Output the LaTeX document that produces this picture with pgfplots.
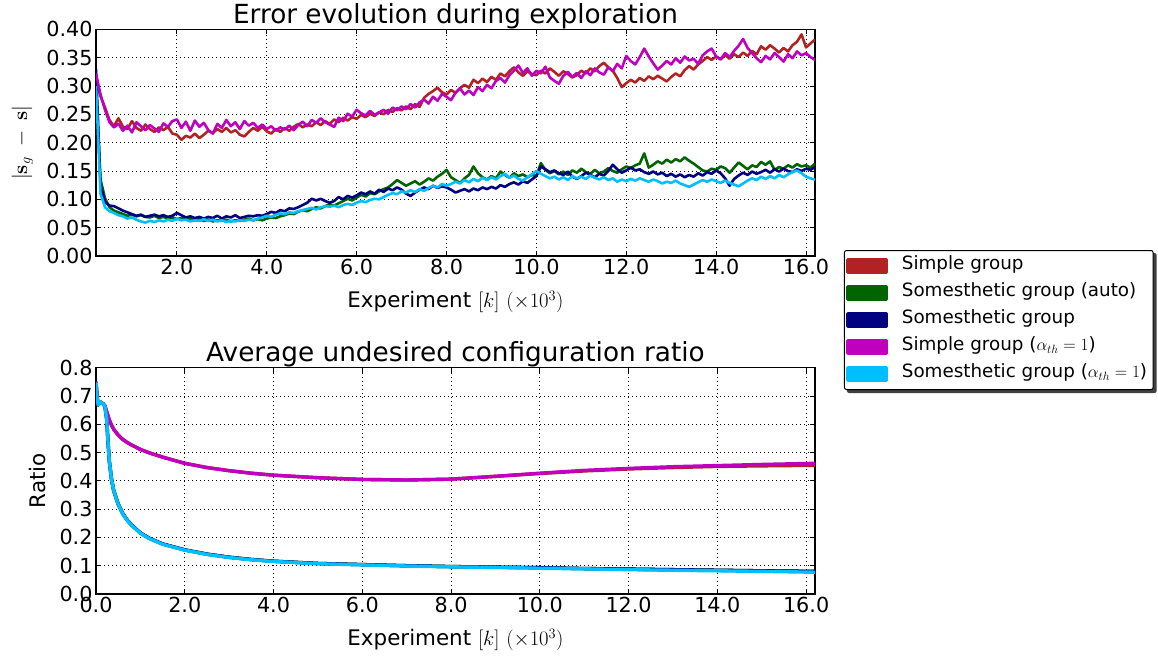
\documentclass[border=0pt]{standalone}
\usepackage{pgfplots}
\pgfplotsset{compat=1.18}
\usepackage{pgfplotstable}
\usepackage[no-math]{fontspec}
\setmainfont{DejaVu Sans}
\usetikzlibrary{backgrounds}
\definecolor{cRed}{RGB}{178,34,34}
\definecolor{cGreen}{RGB}{0,100,0}
\definecolor{cNavy}{RGB}{0,0,128}
\definecolor{cMag}{RGB}{191,0,191}
\definecolor{cCyan}{RGB}{0,191,255}

\pgfplotstableread{
x r g b m c
0.2 0.312 0.300 0.330 0.322 0.300
0.3 0.282 0.135 0.125 0.285 0.110
0.4 0.262 0.102 0.095 0.258 0.086
0.5 0.240 0.086 0.089 0.236 0.079
0.6 0.229 0.080 0.088 0.227 0.076
0.7 0.243 0.077 0.084 0.233 0.072
0.8 0.228 0.074 0.080 0.221 0.070
0.9 0.224 0.071 0.077 0.230 0.066
1.0 0.238 0.073 0.074 0.218 0.068
1.1 0.226 0.070 0.071 0.236 0.064
1.2 0.221 0.072 0.073 0.229 0.061
1.3 0.232 0.069 0.069 0.222 0.059
1.4 0.224 0.068 0.071 0.231 0.062
1.5 0.219 0.071 0.073 0.225 0.060
1.6 0.227 0.067 0.070 0.219 0.063
1.7 0.222 0.069 0.072 0.234 0.061
1.8 0.228 0.066 0.069 0.228 0.064
1.9 0.216 0.068 0.071 0.238 0.062
2.0 0.214 0.065 0.076 0.241 0.066
2.1 0.205 0.067 0.072 0.226 0.063
2.2 0.212 0.064 0.068 0.237 0.064
2.3 0.209 0.066 0.070 0.221 0.061
2.4 0.216 0.063 0.067 0.239 0.063
2.5 0.208 0.065 0.069 0.228 0.062
2.6 0.214 0.062 0.066 0.235 0.065
2.7 0.221 0.064 0.069 0.222 0.062
2.8 0.217 0.061 0.067 0.216 0.064
2.9 0.224 0.063 0.071 0.233 0.061
3.0 0.219 0.062 0.066 0.226 0.063
3.1 0.226 0.064 0.070 0.240 0.060
3.2 0.218 0.061 0.068 0.229 0.062
3.3 0.222 0.063 0.072 0.236 0.061
3.4 0.214 0.062 0.067 0.224 0.063
3.5 0.211 0.064 0.069 0.238 0.062
3.6 0.219 0.066 0.071 0.230 0.064
3.7 0.226 0.063 0.070 0.235 0.063
3.8 0.221 0.065 0.072 0.226 0.066
3.9 0.228 0.063 0.071 0.232 0.068
4.0 0.220 0.066 0.074 0.224 0.071
4.1 0.216 0.068 0.078 0.229 0.069
4.2 0.224 0.067 0.076 0.221 0.073
4.3 0.219 0.070 0.081 0.227 0.075
4.4 0.226 0.072 0.079 0.223 0.074
4.5 0.221 0.075 0.084 0.230 0.077
4.6 0.228 0.074 0.083 0.222 0.076
4.7 0.233 0.078 0.086 0.231 0.079
4.8 0.227 0.081 0.090 0.237 0.081
4.9 0.232 0.079 0.094 0.229 0.083
5.0 0.229 0.083 0.101 0.240 0.085
5.1 0.236 0.086 0.098 0.235 0.082
5.2 0.231 0.084 0.101 0.243 0.086
5.3 0.238 0.088 0.097 0.236 0.088
5.4 0.233 0.091 0.094 0.232 0.087
5.5 0.241 0.089 0.097 0.228 0.089
5.6 0.236 0.093 0.104 0.244 0.086
5.7 0.244 0.097 0.100 0.238 0.090
5.8 0.239 0.101 0.106 0.251 0.092
5.9 0.245 0.098 0.103 0.246 0.090
6.0 0.242 0.103 0.107 0.258 0.094
6.1 0.249 0.108 0.112 0.252 0.097
6.2 0.245 0.105 0.109 0.248 0.095
6.3 0.251 0.111 0.114 0.256 0.099
6.4 0.247 0.109 0.110 0.249 0.101
6.5 0.254 0.114 0.117 0.253 0.100
6.6 0.250 0.118 0.113 0.258 0.104
6.7 0.258 0.121 0.119 0.251 0.108
6.8 0.254 0.127 0.116 0.262 0.111
6.9 0.261 0.134 0.121 0.257 0.109
7.0 0.257 0.129 0.117 0.264 0.114
7.1 0.264 0.124 0.110 0.259 0.112
7.2 0.259 0.128 0.106 0.268 0.116
7.3 0.268 0.132 0.112 0.262 0.113
7.4 0.263 0.126 0.117 0.271 0.118
7.5 0.279 0.131 0.121 0.276 0.115
7.6 0.286 0.137 0.118 0.269 0.120
7.7 0.291 0.133 0.124 0.281 0.124
7.8 0.297 0.140 0.120 0.274 0.121
7.9 0.289 0.145 0.123 0.286 0.127
8.0 0.285 0.152 0.121 0.281 0.124
8.1 0.293 0.139 0.117 0.275 0.127
8.2 0.288 0.134 0.112 0.288 0.131
8.3 0.296 0.129 0.115 0.296 0.128
8.4 0.302 0.137 0.118 0.285 0.134
8.5 0.297 0.143 0.114 0.292 0.130
8.6 0.311 0.158 0.119 0.284 0.136
8.7 0.305 0.146 0.116 0.298 0.132
8.8 0.313 0.139 0.121 0.291 0.138
8.9 0.307 0.135 0.118 0.302 0.134
9.0 0.316 0.141 0.122 0.296 0.139
9.1 0.311 0.137 0.119 0.309 0.135
9.2 0.322 0.149 0.125 0.314 0.141
9.3 0.317 0.143 0.122 0.306 0.145
9.4 0.326 0.138 0.127 0.319 0.138
9.5 0.333 0.146 0.130 0.327 0.142
9.6 0.324 0.141 0.126 0.336 0.136
9.7 0.318 0.144 0.132 0.323 0.133
9.8 0.326 0.139 0.129 0.331 0.139
9.9 0.321 0.143 0.135 0.318 0.144
10.0 0.319 0.141 0.141 0.327 0.150
10.1 0.327 0.164 0.158 0.322 0.145
10.2 0.322 0.152 0.153 0.334 0.141
10.3 0.331 0.146 0.148 0.315 0.137
10.4 0.325 0.150 0.151 0.309 0.140
10.5 0.318 0.144 0.146 0.304 0.135
10.6 0.326 0.149 0.143 0.318 0.139
10.7 0.321 0.143 0.149 0.325 0.134
10.8 0.315 0.151 0.140 0.316 0.141
10.9 0.319 0.147 0.136 0.323 0.137
11.0 0.327 0.154 0.141 0.314 0.140
11.1 0.322 0.148 0.147 0.326 0.136
11.2 0.331 0.145 0.143 0.319 0.142
11.3 0.326 0.152 0.139 0.331 0.138
11.4 0.335 0.146 0.145 0.324 0.135
11.5 0.341 0.149 0.142 0.320 0.139
11.6 0.333 0.155 0.150 0.333 0.134
11.7 0.327 0.150 0.161 0.326 0.137
11.8 0.314 0.147 0.153 0.339 0.131
11.9 0.298 0.153 0.147 0.331 0.135
12.0 0.305 0.158 0.151 0.353 0.132
12.1 0.311 0.155 0.156 0.344 0.136
12.2 0.306 0.160 0.151 0.338 0.133
12.3 0.314 0.163 0.153 0.351 0.137
12.4 0.309 0.181 0.148 0.366 0.134
12.5 0.317 0.156 0.145 0.352 0.131
12.6 0.312 0.161 0.149 0.340 0.135
12.7 0.318 0.167 0.144 0.329 0.132
12.8 0.313 0.163 0.147 0.336 0.128
12.9 0.308 0.170 0.141 0.344 0.131
13.0 0.316 0.165 0.145 0.338 0.129
13.1 0.322 0.171 0.140 0.349 0.133
13.2 0.317 0.167 0.144 0.341 0.128
13.3 0.328 0.174 0.139 0.352 0.125
13.4 0.335 0.168 0.143 0.345 0.122
13.5 0.329 0.163 0.140 0.348 0.126
13.6 0.338 0.157 0.146 0.339 0.130
13.7 0.344 0.151 0.142 0.354 0.134
13.8 0.351 0.149 0.148 0.361 0.131
13.9 0.346 0.154 0.145 0.366 0.135
14.0 0.352 0.152 0.151 0.352 0.132
14.1 0.347 0.158 0.146 0.347 0.129
14.2 0.355 0.155 0.137 0.358 0.133
14.3 0.348 0.147 0.124 0.351 0.129
14.4 0.356 0.156 0.136 0.362 0.126
14.5 0.351 0.165 0.142 0.371 0.123
14.6 0.359 0.159 0.147 0.383 0.128
14.7 0.353 0.153 0.143 0.367 0.133
14.8 0.362 0.160 0.149 0.358 0.137
14.9 0.356 0.157 0.145 0.349 0.134
15.0 0.370 0.166 0.148 0.342 0.140
15.1 0.364 0.161 0.152 0.353 0.136
15.2 0.372 0.167 0.147 0.347 0.141
15.3 0.366 0.152 0.153 0.358 0.137
15.4 0.359 0.157 0.149 0.351 0.143
15.5 0.367 0.154 0.154 0.343 0.139
15.6 0.361 0.160 0.150 0.356 0.144
15.7 0.372 0.156 0.148 0.349 0.148
15.8 0.378 0.162 0.153 0.361 0.151
15.9 0.391 0.158 0.150 0.354 0.146
16.0 0.368 0.160 0.154 0.358 0.140
16.1 0.375 0.156 0.152 0.351 0.137
16.2 0.382 0.163 0.157 0.346 0.135
}\errtable

\pgfplotstableread{
x b g c
0.00 0.750 0.745 0.748
0.02 0.700 0.700 0.700
0.05 0.668 0.668 0.668
0.08 0.680 0.680 0.680
0.12 0.676 0.676 0.676
0.16 0.672 0.672 0.672
0.20 0.665 0.665 0.665
0.24 0.620 0.620 0.620
0.27 0.540 0.540 0.540
0.30 0.470 0.470 0.470
0.35 0.405 0.405 0.405
0.40 0.365 0.365 0.365
0.50 0.318 0.318 0.317
0.60 0.285 0.285 0.284
0.70 0.262 0.262 0.261
0.80 0.244 0.244 0.243
1.00 0.216 0.216 0.215
1.20 0.197 0.197 0.196
1.50 0.177 0.177 0.176
2.00 0.156 0.156 0.155
2.50 0.141 0.141 0.140
3.00 0.130 0.130 0.129
3.50 0.122 0.122 0.121
4.00 0.116 0.116 0.115
5.00 0.108 0.108 0.107
6.00 0.104 0.104 0.103
7.00 0.100 0.100 0.099
8.00 0.097 0.097 0.096
9.00 0.095 0.095 0.094
10.0 0.093 0.093 0.091
11.0 0.090 0.090 0.089
12.0 0.088 0.088 0.086
13.0 0.086 0.086 0.084
14.0 0.084 0.084 0.082
15.0 0.082 0.082 0.080
16.2 0.080 0.080 0.077
}\ratlow

\pgfplotstableread{
x r m
0.00 0.750 0.750
0.02 0.700 0.700
0.05 0.668 0.668
0.08 0.680 0.680
0.12 0.676 0.676
0.16 0.672 0.672
0.20 0.665 0.665
0.25 0.640 0.640
0.30 0.615 0.615
0.35 0.597 0.597
0.40 0.582 0.582
0.50 0.562 0.562
0.60 0.547 0.547
0.70 0.536 0.536
0.80 0.527 0.527
1.00 0.511 0.511
1.20 0.499 0.499
1.50 0.484 0.484
2.00 0.462 0.462
2.50 0.447 0.447
3.00 0.436 0.436
3.50 0.427 0.427
4.00 0.420 0.420
5.00 0.411 0.411
6.00 0.405 0.405
7.00 0.403 0.403
8.00 0.406 0.406
9.00 0.416 0.416
10.0 0.426 0.427
11.0 0.435 0.437
12.0 0.442 0.444
13.0 0.447 0.450
14.0 0.451 0.454
15.0 0.453 0.458
16.2 0.455 0.462
}\rathigh

\pgfplotsset{
  mystyle/.style={
    scale only axis,
    width=719bp,
    tick align=inside,
    major tick length=5bp,
    axis line style={line width=1.1bp},
    tick style={black, line width=0.9bp},
    grid=major,
    major grid style={black, line width=0.9bp, dash pattern=on 1bp off 3bp},
    ticklabel style={font=\fontsize{20.8}{24}\selectfont},
    /pgf/number format/assume math mode=true,
    x tick label style={/pgf/number format/.cd, fixed, fixed zerofill, precision=1},
    label style={font=\fontsize{21.5}{25}\selectfont},
    every axis title/.style={at={(0.5,1)}, anchor=base, yshift=6bp,
      font=\fontsize{26.4}{30}\selectfont},
    every axis x label/.style={at={(0.5,0)}, anchor=base, yshift=-51.5bp,
      font=\fontsize{21.5}{25}\selectfont},
    ylabel style={yshift=6.5bp},
    xlabel={Experiment $[k]$ $(\times 10^3)$},
    every axis plot/.append style={line join=round},
  }
}

\begin{document}
\begin{tikzpicture}
\useasboundingbox (0,0) rectangle (1158bp,-658bp);

\begin{axis}[mystyle,
  at={(96bp,-256bp)}, anchor=south west,
  height=226.7bp,
  xmin=0.2, xmax=16.2, ymin=0, ymax=0.4,
  xtick={2,4,6,8,10,12,14,16},
  ytick={0,0.05,0.1,0.15,0.2,0.25,0.3,0.35,0.4},
  y tick label style={/pgf/number format/.cd, fixed, fixed zerofill, precision=2},
  title={Error evolution during exploration},
  ylabel={$|\mathbf{s}_g\;-\;\mathbf{s}|$},
]
\addplot[cRed, line width=2.6bp] table[x=x, y=r] {\errtable};
\addplot[cGreen, line width=2.6bp] table[x=x, y=g] {\errtable};
\addplot[cNavy, line width=2.6bp] table[x=x, y=b] {\errtable};
\addplot[cMag, line width=2.6bp] table[x=x, y=m] {\errtable};
\addplot[cCyan, line width=2.6bp] table[x=x, y=c] {\errtable};
\end{axis}

\begin{axis}[mystyle,
  at={(96bp,-594bp)}, anchor=south west,
  height=226.3bp,
  xmin=0, xmax=16.2, ymin=0, ymax=0.8,
  xtick={0,2,4,6,8,10,12,14,16},
  ytick={0,0.1,0.2,0.3,0.4,0.5,0.6,0.7,0.8},
  y tick label style={/pgf/number format/.cd, fixed, fixed zerofill, precision=1},
  title={Average undesired configuration ratio},
  ylabel={Ratio},
  legend cell align=left,
  legend image code/.code={\fill[#1, sharp corners] (0bp,-6bp) rectangle (38bp,6bp);},
  legend style={name=leg, at={(1.0403,1.5201)}, anchor=north west,
    draw=black, line width=1bp, rounded corners=2bp, fill=white,
    font=\fontsize{18.4}{21}\selectfont,
    inner xsep=2bp, inner ysep=2bp,
    column sep=10bp,
    nodes={inner xsep=4bp, inner ysep=4bp, text height=13bp, text depth=6bp}},
]
\addplot[cRed, line width=3.4bp] table[x=x, y=r] {\rathigh};
\addlegendentry{Simple group}
\addplot[cGreen, line width=3.4bp] table[x=x, y=g] {\ratlow};
\addlegendentry{Somesthetic group (auto)}
\addplot[cNavy, line width=3.4bp] table[x=x, y=b] {\ratlow};
\addlegendentry{Somesthetic group}
\addplot[cMag, line width=3.4bp] table[x=x, y=m] {\rathigh};
\addlegendentry{Simple group ($\alpha_{th}=1$)}
\addplot[cCyan, line width=3.4bp] table[x=x, y=c] {\ratlow};
\addlegendentry{Somesthetic group ($\alpha_{th}=1$)}
\end{axis}
\begin{scope}[on background layer]
\fill[black!75, rounded corners=2bp] ([xshift=3bp,yshift=-3bp]leg.south west) rectangle ([xshift=3bp,yshift=-3bp]leg.north east);
\end{scope}
\end{tikzpicture}
\end{document}
